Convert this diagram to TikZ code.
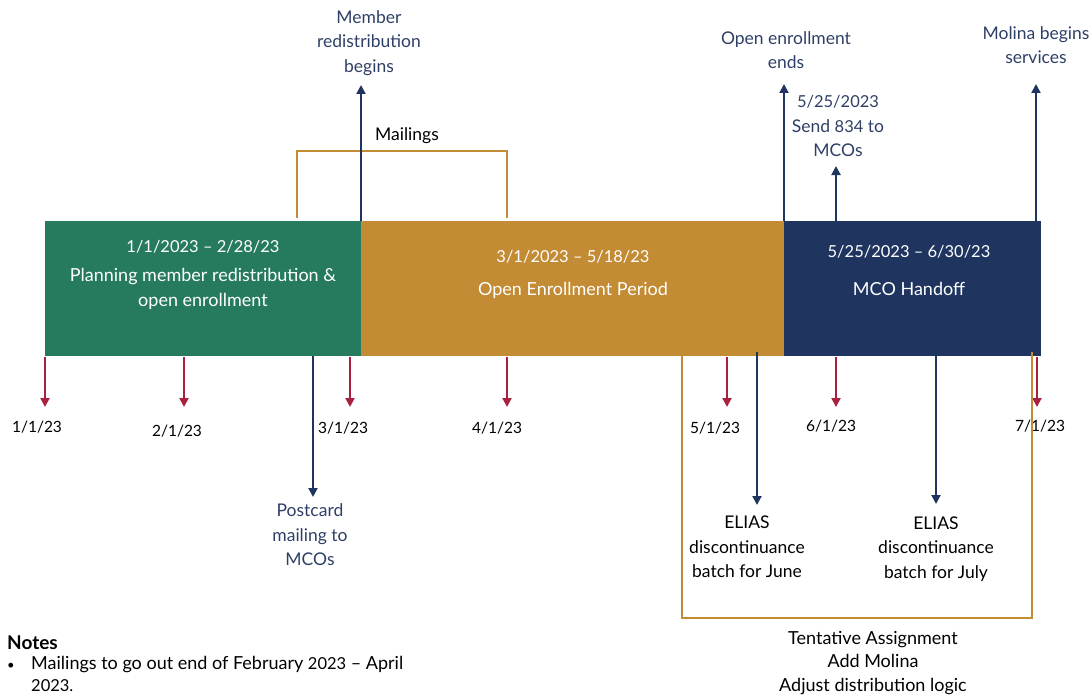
\documentclass[tikz,border=0pt]{standalone}
\usepackage{fontspec}
\setmainfont{Lato}
\usetikzlibrary{arrows.meta}
\definecolor{cgreen}{HTML}{267B5E}
\definecolor{corange}{HTML}{C38B33}
\definecolor{cnavy}{HTML}{1F3560}
\definecolor{cred}{HTML}{A8223F}
\definecolor{ctext}{HTML}{2E3F66}
\newcommand{\dg}[1]{{\fontsize{16.5}{24.5}\selectfont #1}}
\tikzset{
  lbl/.style={font=\fontsize{17.5}{24.5}\selectfont, align=center, inner sep=0pt},
  navylbl/.style={lbl, text=ctext},
  datelbl/.style={lbl, text=black, font=\fontsize{15.5}{24.5}\selectfont},
  blk/.style={lbl, text=black},
  boxtxt/.style={lbl, text=white, font=\fontsize{18}{24.5}\selectfont},
  redarr/.style={cred, line width=2pt, -{Triangle[width=9pt,length=9pt]}},
  navyarr/.style={cnavy, line width=2pt, -{Triangle[width=9pt,length=9pt]}},
  brk/.style={corange, line width=1.8pt},
}
\begin{document}
\begin{tikzpicture}[x=1pt,y=-1pt]
\useasboundingbox (0,0) rectangle (1091,698);
% bars
\fill[cgreen] (45,221) rectangle (361,356);
\fill[corange] (361,221) rectangle (784,356);
\fill[cnavy] (784,221) rectangle (1041,356);
\node[boxtxt] (g1) at (203,247) {\dg{1/1/2023 – 2/28/23}};
\node[boxtxt] (g2) at (203,289) {Planning member redistribution \&\\open enrollment};
\node[boxtxt] (o1) at (573,257) {\dg{3/1/2023 – 5/18/23}};
\node[boxtxt] (o2) at (573,290) {Open Enrollment Period};
\node[boxtxt] (n1) at (909,252) {\dg{5/25/2023 – 6/30/23}};
\node[boxtxt] (n2) at (909,289) {MCO Handoff};
% red ticks
\foreach \x/\lx/\ly/\t [count=\i] in {45/37/427/{1/1/23},184/177/431/{2/1/23},350/343/428/{3/1/23},507/497/428/{4/1/23},727/715/428/{5/1/23},836/831/426/{6/1/23},1037/1040/426/{7/1/23}}{
  \coordinate (rs\i) at (\x,357);
  \coordinate (re\i) at (\x,407);
  \draw[redarr] (rs\i) -- (re\i);
  \node[datelbl] (d\i) at (\lx,\ly) {\t};
}
% mailings bracket
\coordinate (m1) at (297,218);
\coordinate (m2) at (297,151);
\coordinate (m3) at (507,151);
\coordinate (m4) at (507,218);
\draw[brk] (m1) -- (m2) -- (m3) -- (m4);
\node[blk] (mail) at (407,136) {Mailings};
% up arrows
\node[navylbl] (mrb) at (369,43) {Member\\redistribution\\begins};
\coordinate (a1s) at (361,221); \coordinate (a1e) at (361,85);
\draw[navyarr] (a1s) -- (a1e);
\node[navylbl] (oee) at (786,50) {Open enrollment\\ends};
\coordinate (a2s) at (784,221); \coordinate (a2e) at (784,84);
\draw[navyarr] (a2s) -- (a2e);
\node[navylbl] (s834) at (838,126) {\dg{5/25/2023}\\Send \dg{834} to\\MCOs};
\coordinate (a3s) at (836,221); \coordinate (a3e) at (836,166);
\draw[navyarr] (a3s) -- (a3e);
\node[navylbl] (mol) at (1036,45) {Molina begins\\services};
\coordinate (a4s) at (1036,221); \coordinate (a4e) at (1036,84);
\draw[navyarr] (a4s) -- (a4e);
% down arrows
\node[navylbl] (pc) at (310,535) {Postcard\\mailing to\\MCOs};
\coordinate (b1s) at (313,356); \coordinate (b1e) at (313,497);
\draw[navyarr] (b1s) -- (b1e);
\node[blk] (ej) at (747,547) {ELIAS\\discontinuance\\batch for June};
\coordinate (b2s) at (757,352); \coordinate (b2e) at (757,505);
\draw[navyarr] (b2s) -- (b2e);
\node[blk] (ejl) at (936,549) {ELIAS\\discontinuance\\batch for July};
\coordinate (b3s) at (936,356); \coordinate (b3e) at (936,504);
\draw[navyarr] (b3s) -- (b3e);
% bottom bracket
\coordinate (t1) at (682,356);
\coordinate (t2) at (682,618);
\coordinate (t3) at (1032,618);
\coordinate (t4) at (1032,352);
\draw[brk] (t1) -- (t2) -- (t3) -- (t4);
\node[blk, font=\fontsize{18}{23.5}\selectfont] (tent) at (873,663) {Tentative Assignment\\Add Molina\\Adjust distribution logic};
% notes
\node[lbl, anchor=west, text=black, font=\bfseries\fontsize{19}{20}\selectfont] (notes) at (7,643) {Notes};
\node[lbl, anchor=west, font=\fontsize{13}{20}\selectfont] (bul) at (7,666) {•};
\node[lbl, anchor=north west, align=left, font=\fontsize{18}{22}\selectfont] (nt) at (31,656) {Mailings to go out end of February \dg{2023} – April\\\dg{2023.}};
\end{tikzpicture}
\end{document}
